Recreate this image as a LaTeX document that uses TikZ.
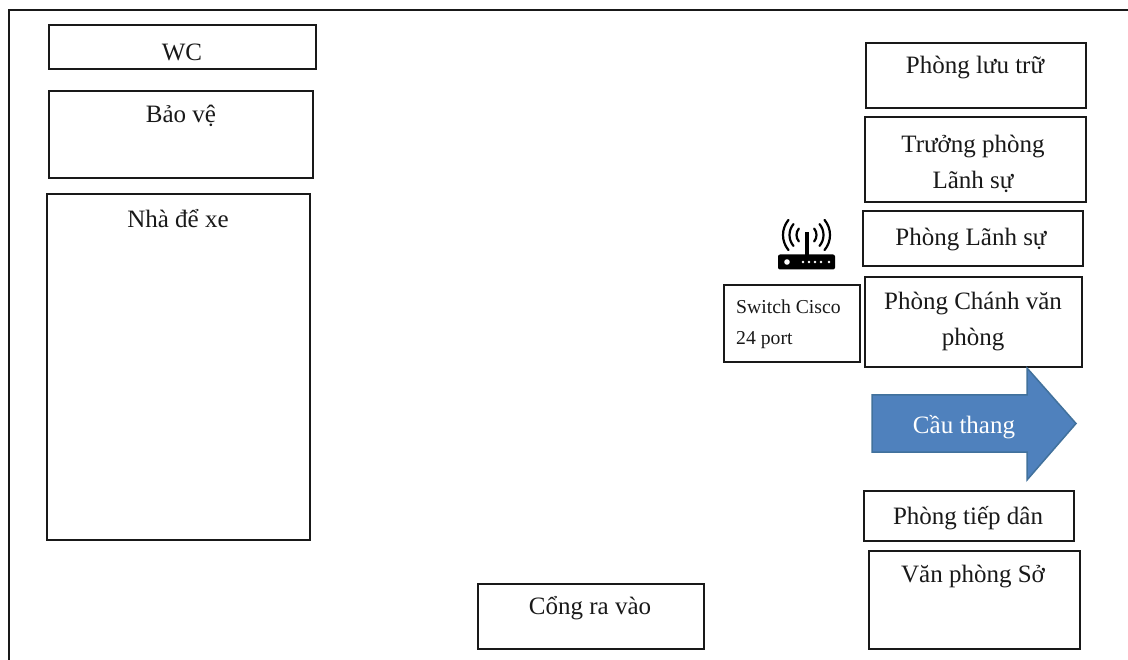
\documentclass[tikz,border=0pt]{standalone}
\usepackage{fontspec}
\setmainfont{Liberation Serif}
\tikzset{
  x=1pt,y=-1pt,
  roombox/.style={draw=black!90,line width=2pt,fill=white,inner sep=0pt},
  roomtext/.style={font=\fontsize{25}{36}\selectfont,align=center,text=black!90,inner sep=0pt},
  smalltext/.style={font=\fontsize{19.7}{31}\selectfont,align=left,text=black!90,inner sep=0pt},
  stairarrow/.style={fill=stairblue,draw=stairedge,line width=1.5pt,line join=miter},
  routerpart/.style={fill=black,draw=none},
  wave/.style={draw=black,line width=2.2pt,line cap=round}
}
\definecolor{stairblue}{HTML}{4F81BD}
\definecolor{stairedge}{HTML}{41719C}
\begin{document}
\begin{tikzpicture}
\useasboundingbox (0,0) rectangle (1128,660);
\fill[white] (0,0) rectangle (1128,660);
\coordinate (frameA) at (8.5,660);
\coordinate (frameB) at (8.5,10.5);
\coordinate (frameC) at (1128,10.5);
\draw[black!90,line width=2pt] (frameA) -- (frameB) -- (frameC);

\node[roombox,minimum width=267pt,minimum height=44pt] (wc) at (182,47.5) {};
\node[roomtext] (wct) at (182,52) {WC};
\node[roombox,minimum width=264pt,minimum height=87pt] (bv) at (181,135) {};
\node[roomtext] (bvt) at (181,116) {Bảo vệ};
\node[roombox,minimum width=263pt,minimum height=346pt] (nx) at (178.5,367) {};
\node[roomtext] (nxt) at (178,219) {Nhà để xe};

\node[roombox,minimum width=220pt,minimum height=65pt] (lt) at (975.5,75.5) {};
\node[roomtext] (ltt) at (975,68) {Phòng lưu trữ};
\node[roombox,minimum width=221pt,minimum height=85pt] (tp) at (975,160) {};
\node[roomtext] (tpt) at (973,164) {Trưởng phòng\\Lãnh sự};
\node[roombox,minimum width=220pt,minimum height=55pt] (ls) at (973,239) {};
\node[roomtext] (lst) at (971,240) {Phòng Lãnh sự};
\node[roombox,minimum width=217pt,minimum height=90pt] (cv) at (973,322) {};
\node[roomtext] (cvt) at (973,322) {Phòng Chánh văn\\phòng};
\node[roombox,minimum width=136pt,minimum height=77pt] (sw) at (791.5,324) {};
\node[smalltext,anchor=west] (swt) at (736,324) {Switch Cisco\\24 port};

\path[stairarrow] (872,395) -- (1027,395) -- (1027,368) -- (1076,423.5) -- (1027,480) -- (1027,452) -- (872,452) -- cycle;
\node[roomtext,text=white] (cu) at (964,427) {Cầu thang};

\node[roombox,minimum width=210pt,minimum height=50pt] (td) at (968.5,516) {};
\node[roomtext] (tdt) at (968,518) {Phòng tiếp dân};
\node[roombox,minimum width=211pt,minimum height=98pt] (vp) at (974,599.5) {};
\node[roomtext] (vpt) at (973,577) {Văn phòng Sở};
\node[roombox,minimum width=226pt,minimum height=65pt] (cg) at (591,616) {};
\node[roomtext] (cgt) at (590,608) {Cổng ra vào};

% router icon
\fill[routerpart,rounded corners=2pt] (778,254.5) rectangle (835,269.5);
\fill[routerpart] (805,232) rectangle (808.5,255);
\fill[white] (787,262) circle (2.8pt);
\foreach \px in {803,809,815,821,829}{\fill[white] (\px,262) circle (1.3pt);}
\foreach \rr in {10,17,23.5}{
  \draw[wave] (806.5,235) ++(140:\rr pt) arc[start angle=140,end angle=220,radius=\rr pt];
  \draw[wave] (806.5,235) ++(40:\rr pt) arc[start angle=40,end angle=-40,radius=\rr pt];
}
\end{tikzpicture}
\end{document}
